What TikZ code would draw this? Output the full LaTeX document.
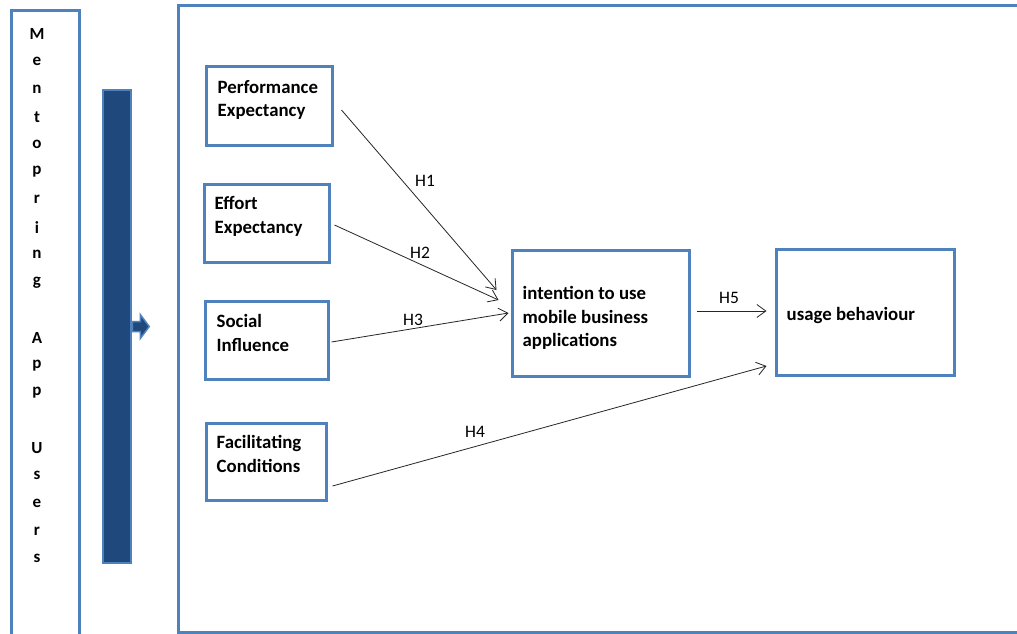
\documentclass[tikz,border=0pt]{standalone}
\usepackage{fontspec}
\setmainfont{Carlito}
\usetikzlibrary{arrows.meta}
\definecolor{frameblue}{HTML}{4F81BD}
\definecolor{barblue}{HTML}{1F497D}
\begin{document}
\begin{tikzpicture}[x=1pt,y=-1pt,
  box/.style={draw=frameblue,line width=3pt,rectangle,inner sep=0pt},
  boxtext/.style={anchor=north west,inner sep=0pt,align=left,
    font=\fontsize{18.8}{23.7}\selectfont\bfseries},
  hlabel/.style={inner sep=0pt,font=\fontsize{17.5}{19}\selectfont},
  link/.style={draw=black!85,line width=0.8pt,-{Straight Barb[length=9pt,width=13pt]}},
  letter/.style={inner sep=0pt,font=\fontsize{17}{19}\selectfont\bfseries}]
\useasboundingbox (0,0) rectangle (1017,634);
\clip (0,0) rectangle (1017,634);
\fill[white] (0,0) rectangle (1017,634);

% outer frames
\draw[frameblue,line width=3pt] (178,6) rectangle (1040,632);
\draw[frameblue,line width=3pt] (11,11) rectangle (79,660);

% vertical caption, one letter per line
\foreach \ch/\yy in {M/34,e/61.6,n/89.2,t/116.8,o/144.4,p/172,r/199.6,i/227.2,n/254.8,g/282.4,
                     A/337.6,p/365.2,p/392.8,U/448,s/475.6,e/503.2,r/530.8,s/558.4}
  \node[letter] at (37,\yy) {\ch};

% dark bar with small arrow
\node[draw=frameblue,fill=barblue,line width=2.5pt,inner sep=0pt,
      minimum width=28pt,minimum height=473pt] (bar) at (117,326.5) {};
\draw[draw=frameblue,fill=barblue,line width=1.5pt,line join=miter]
  ([shift={(0,-5)}]bar.east) -- ++(8,0) -- ++(0,-7) -- ++(9,12) -- ++(-9,12) -- ++(0,-7)
  -- ([shift={(0,5)}]bar.east) -- cycle;

% construct boxes
\node[box,minimum width=126pt,minimum height=78pt] (pe) at (269,106) {};
\node[box,minimum width=125pt,minimum height=78pt] (ee) at (266.5,223) {};
\node[box,minimum width=123pt,minimum height=78pt] (si) at (266.5,340) {};
\node[box,minimum width=120pt,minimum height=77pt] (fc) at (266,461.5) {};
\node[box,minimum width=177pt,minimum height=126pt] (iu) at (600.5,313) {};
\node[box,minimum width=178pt,minimum height=126pt] (ub) at (865,312) {};

\node[boxtext] at ([shift={(13,14.5)}]pe.north west) {Performance\\Expectancy};
\node[boxtext] at ([shift={(12,13.5)}]ee.north west) {Effort\\Expectancy};
\node[boxtext] at ([shift={(13,14.5)}]si.north west) {Social\\Influence};
\node[boxtext] at ([shift={(12,13.5)}]fc.north west) {Facilitating\\Conditions};
\node[boxtext] at ([shift={(12,37.5)}]iu.north west) {intention to use\\mobile business\\applications};
\node[boxtext] at ([shift={(12,59.5)}]ub.north west) {usage behaviour};

% hypotheses
\draw[link] ([shift={(8,4)}]pe.east) -- ([shift={(-14,-23)}]iu.west);
\draw[link] ([shift={(4,2)}]ee.east) -- ([shift={(-12,-13)}]iu.west);
\draw[link] ([shift={(2,2)}]si.east) -- ([shift={(-2,0)}]iu.west);
\draw[link] ([shift={(5,24.5)}]fc.east) -- ([shift={(-8,54)}]ub.west);
\draw[link] ([shift={(6,-2)}]iu.east) -- ([shift={(-8,-1)}]ub.west);

\node[hlabel] (h1) at (425,181) {H1};
\node[hlabel] (h2) at (420,253) {H2};
\node[hlabel] (h3) at (413,320) {H3};
\node[hlabel] (h4) at (475,432) {H4};
\node[hlabel] (h5) at (729,298) {H5};
\end{tikzpicture}
\end{document}
